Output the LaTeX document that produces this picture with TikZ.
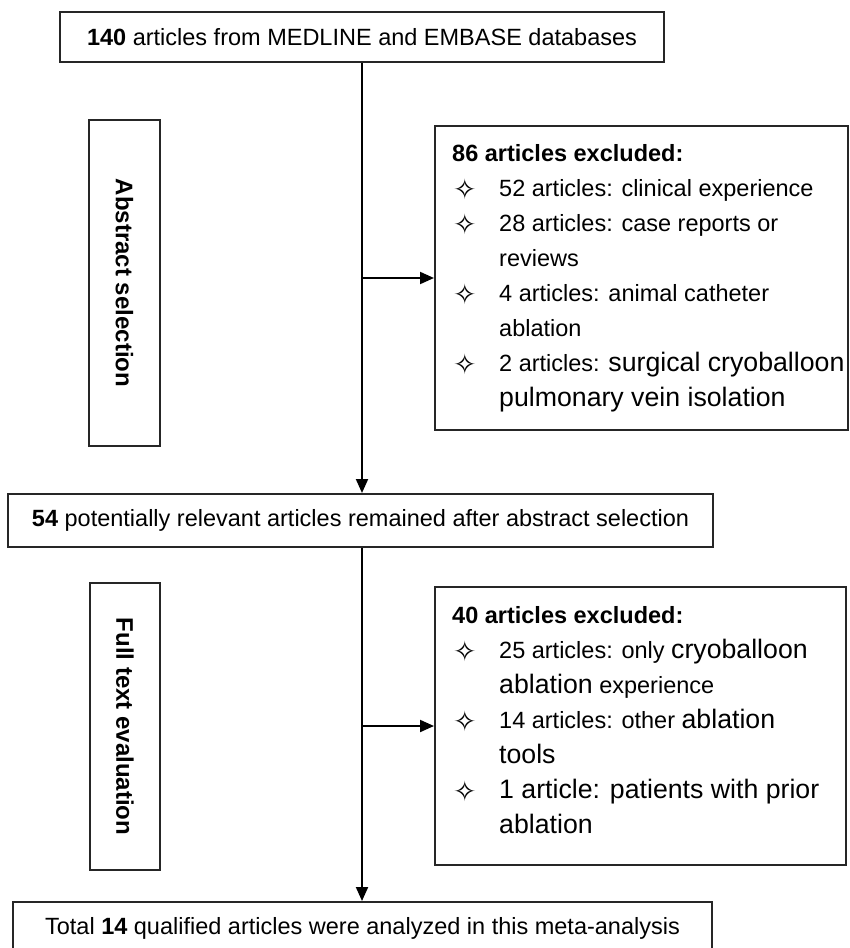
\documentclass[tikz,border=0pt]{standalone}
\usepackage{fontspec}
\setmainfont{Liberation Sans}
\newfontfamily\starfont{DejaVu Sans}
\usetikzlibrary{arrows.meta}

\newcommand{\bigtxt}[1]{{\fontsize{26.7}{35}\selectfont #1}}
\newcommand{\itm}{\makebox[47pt][l]{\hspace{1pt}\smash{\raisebox{-3pt}{\starfont\fontsize{28}{35}\selectfont ✧}}}}
\newcommand{\cont}{\hspace*{47pt}}

\begin{document}
\begin{tikzpicture}[x=1pt,y=-1pt,
  box/.style={draw=black!85, line width=2pt, inner sep=0pt, font=\fontsize{23.5}{35}\selectfont},
  stagebox/.style={box, rotate=-90, font=\fontsize{24}{28}\selectfont\bfseries},
  list/.style={inner sep=0pt, align=left, anchor=west, font=\fontsize{23.5}{35}\selectfont},
  arr/.style={line width=2pt, -{Triangle[length=14pt,width=12pt]}}]
\path[use as bounding box] (0,0) rectangle (850,948);
\clip (0,0) rectangle (850,948);

% main line
\node[box, minimum width=604pt, minimum height=50pt] (src) at (362,37)
  {\textbf{140} articles from MEDLINE and EMBASE databases};
\node[box, minimum width=705pt, minimum height=53pt] (remain) at (360.5,520.5)
  {\textbf{54} potentially relevant articles remained after abstract selection};
\node[box, minimum width=699pt, minimum height=52pt] (final) at (362.5,928)
  {Total \textbf{14} qualified articles were analyzed in this meta-analysis};

% stages
\node[stagebox, minimum width=326pt, minimum height=71pt] (absel) at (124.5,283) {Abstract selection};
\node[stagebox, minimum width=287pt, minimum height=70pt] (fulltext) at (125,726.5) {Full text evaluation};

% exclusions
\node[box, minimum width=413pt, minimum height=304pt] (excl1) at (641.5,278) {};
\node[list] (excl1txt) at ([xshift=18pt]excl1.west) {%
  \textbf{86 articles excluded:}\\
  \itm 52 articles: clinical experience\\
  \itm 28 articles: case reports or\\
  \cont reviews\\
  \itm 4 articles: animal catheter\\
  \cont ablation\\
  \itm 2 articles: \bigtxt{surgical cryoballoon}\\
  \cont \bigtxt{pulmonary vein isolation}};

\node[box, minimum width=411pt, minimum height=278pt] (excl2) at (640.5,726) {};
\node[list] (excl2txt) at ([xshift=18pt,yshift=6pt]excl2.west) {%
  \textbf{40 articles excluded:}\\
  \itm 25 articles: only \bigtxt{cryoballoon}\\
  \cont \bigtxt{ablation} experience\\
  \itm 14 articles: other \bigtxt{ablation}\\
  \cont \bigtxt{tools}\\
  \itm \bigtxt{1 article: patients with prior}\\
  \cont \bigtxt{ablation}};

% arrows
\draw[arr] (src.south) -- (src.south |- remain.north);
\coordinate (split1) at (src.south |- excl1.west);
\draw[arr] (split1) -- (excl1.west);
\draw[arr] (src.south |- remain.south) -- (src.south |- final.north);
\coordinate (split2) at (src.south |- excl2.west);
\draw[arr] (split2) -- (excl2.west);
\end{tikzpicture}
\end{document}
